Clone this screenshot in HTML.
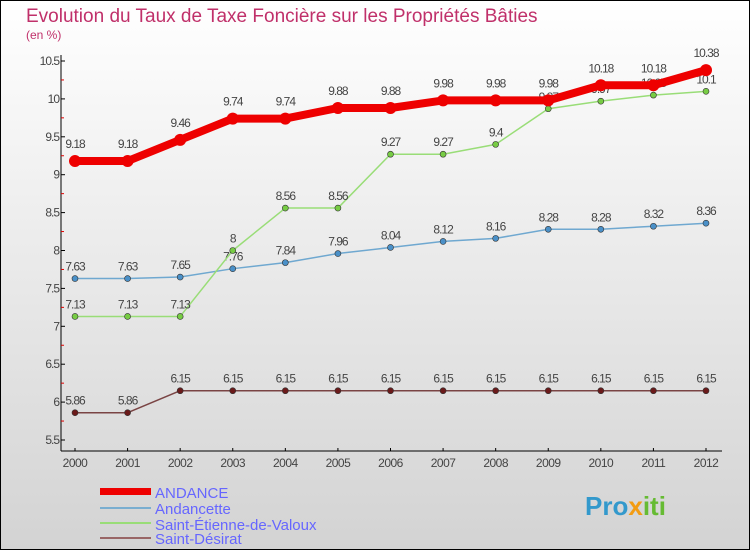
<!DOCTYPE html>
<html><head><meta charset="utf-8"><style>
body{margin:0;width:750px;height:550px;overflow:hidden}
svg{display:block;font-family:"Liberation Sans",sans-serif}
</style></head><body>
<svg width="750" height="550">
<defs><linearGradient id="bg" x1="0" y1="0" x2="0" y2="1"><stop offset="0" stop-color="#ffffff"/><stop offset="1" stop-color="#d3d3d3"/></linearGradient></defs>
<rect x="0.5" y="0.5" width="749" height="549" fill="url(#bg)" stroke="#000"/>
<text x="26" y="22" font-size="19" fill="#c0306a">Evolution du Taux de Taxe Foncière sur les Propriétés Bâties</text>
<text x="26" y="39" font-size="12" fill="#c0306a">(en %)</text>
<g id="axes"></g><g id="series"></g>
<g>
<rect x="100" y="488" width="51" height="7" fill="#e00"/>
<text x="155" y="498" font-size="15" fill="#6666ff">ANDANCE</text>
<line x1="100" y1="508" x2="151" y2="508" stroke="#7aaed0" stroke-width="2"/>
<text x="155" y="514" font-size="15" fill="#6666ff">Andancette</text>
<line x1="100" y1="523" x2="151" y2="523" stroke="#99dd77" stroke-width="2"/>
<text x="155" y="530" font-size="15" fill="#6666ff">Saint-Étienne-de-Valoux</text>
<line x1="100" y1="538" x2="151" y2="538" stroke="#996666" stroke-width="2"/>
<text x="155" y="544" font-size="15" fill="#6666ff">Saint-Désirat</text>
</g>
<text x="585" y="515" font-size="26" font-weight="bold" fill="#3399cc">Pro<tspan fill="#f39c12">x</tspan><tspan fill="#66bb33">iti</tspan></text>
</svg>
<script>
const years=[2000,2001,2002,2003,2004,2005,2006,2007,2008,2009,2010,2011,2012];
const andance=[9.18,9.18,9.46,9.74,9.74,9.88,9.88,9.98,9.98,9.98,10.18,10.18,10.38];
const andancette=[7.63,7.63,7.65,7.76,7.84,7.96,8.04,8.12,8.16,8.28,8.28,8.32,8.36];
const stEtienne=[7.13,7.13,7.13,8,8.56,8.56,9.27,9.27,9.4,9.87,9.97,10.05,10.1];
const stDesirat=[5.86,5.86,6.15,6.15,6.15,6.15,6.15,6.15,6.15,6.15,6.15,6.15,6.15];
const yTicks=[5.5,6,6.5,7,7.5,8,8.5,9,9.5,10,10.5];
const NS="http://www.w3.org/2000/svg";
const X=i=>75+i*(706-75)/(years.length-1);
const Y=v=>440-(v-5.5)*(440-61)/5;
function mk(t,a,p){const e=document.createElementNS(NS,t);for(const k in a)e.setAttribute(k,a[k]);p.appendChild(e);return e;}
const ax=document.getElementById('axes');
let l=mk('line',{x1:61,y1:55,x2:61,y2:451,stroke:'#000'},ax);


l=mk('line',{x1:61,y1:451,x2:722,y2:451,stroke:'#000'},ax);


yTicks.forEach((v,i)=>{
 mk('line',{x1:61,y1:Y(v),x2:65,y2:Y(v),stroke:'#000'},ax);
 if(i<yTicks.length-1)mk('line',{x1:61,y1:Y(v+0.25),x2:64,y2:Y(v+0.25),stroke:'#d00'},ax);
 const t=mk('text',{x:59,y:Y(v)+4,'font-size':12,fill:'#444','text-anchor':'end','letter-spacing':'-1'},ax);
 t.textContent=String(v);
 
 
});
years.forEach((y,i)=>{
 mk('line',{x1:X(i),y1:448,x2:X(i),y2:451,stroke:'#000'},ax);
 const t=mk('text',{x:X(i),y:467,'font-size':12,fill:'#444','text-anchor':'middle','letter-spacing':'-0.5'},ax);
 t.textContent=y;
 
 
});
const sg=document.getElementById('series');
function series(data,name,color,w,r,dot){
 const g=mk('g',{},sg);
 
 
 mk('polyline',{points:data.map((v,i)=>X(i)+','+Y(v)).join(' '),fill:'none',stroke:color,'stroke-width':w,'stroke-linejoin':'round'},g);
 data.forEach((v,i)=>{
  const c=mk('circle',{cx:X(i),cy:Y(v),r:r,fill:dot,stroke:'#333','stroke-width':r>4?0:0.6},g);
  
  
  const t=mk('text',{x:X(i),y:Y(v)-(r>4?13:8),'font-size':12,fill:'#444','text-anchor':'middle','letter-spacing':'-1'},g);
  t.textContent=String(v);
  
  
 });
}
series(stDesirat,'saint-desirat-line','#7a4444',1.5,3,'#6b1a1a');
series(andancette,'andancette-line','#6fa8d0',1.5,3,'#4a90c8');
series(stEtienne,'saint-etienne-line','#99dd77',1.5,3,'#77cc44');
series(andance,'andance-line','#ee0000',8,6,'#ee0000');
</script>
</body></html>
